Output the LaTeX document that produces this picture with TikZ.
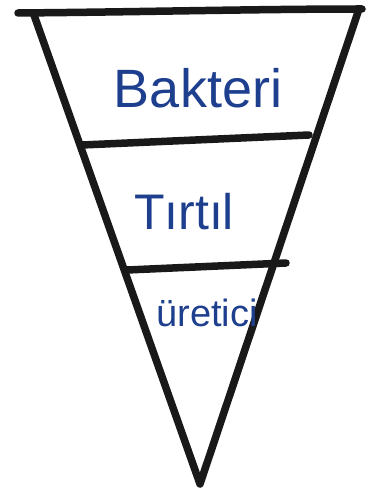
\documentclass[tikz,border=0pt]{standalone}
\usepackage{fontspec}
\setmainfont{Liberation Sans}
\begin{document}
\begin{tikzpicture}[x=1pt,y=-1pt,
  marker/.style={line width=7.5pt,line cap=round,line join=round,color=black!90},
  label/.style={text=inkblue,inner sep=0pt,anchor=center}]
\definecolor{inkblue}{HTML}{1E3F8E}
\useasboundingbox (0,0) rectangle (372,494);
% outline of the inverted pyramid
\coordinate (tl) at (18,13);
\coordinate (tr) at (362,9);
\coordinate (lt) at (34,15);
\coordinate (rt) at (358,12);
\coordinate (apex) at (200,484);
\draw[marker] (tl) .. controls (140,12) and (260,9) .. (tr);
\draw[marker] (lt) -- (apex) -- (rt);
% level dividers
\coordinate (a1) at (82,145);
\coordinate (a2) at (309,135);
\coordinate (b1) at (127,270);
\coordinate (b2) at (286,263);
\draw[marker] (a1) -- (a2);
\draw[marker] (b1) -- (b2);
% level names
\node[label,font=\fontsize{54}{54}\selectfont] (bakteri) at (198,88) {Bakteri};
\node[label,font=\fontsize{50}{50}\selectfont] (tirtil) at (184,212) {Tırtıl};
\node[label,font=\fontsize{38}{38}\selectfont] (uretici) at (207,313) {üretici};
\end{tikzpicture}
\end{document}
